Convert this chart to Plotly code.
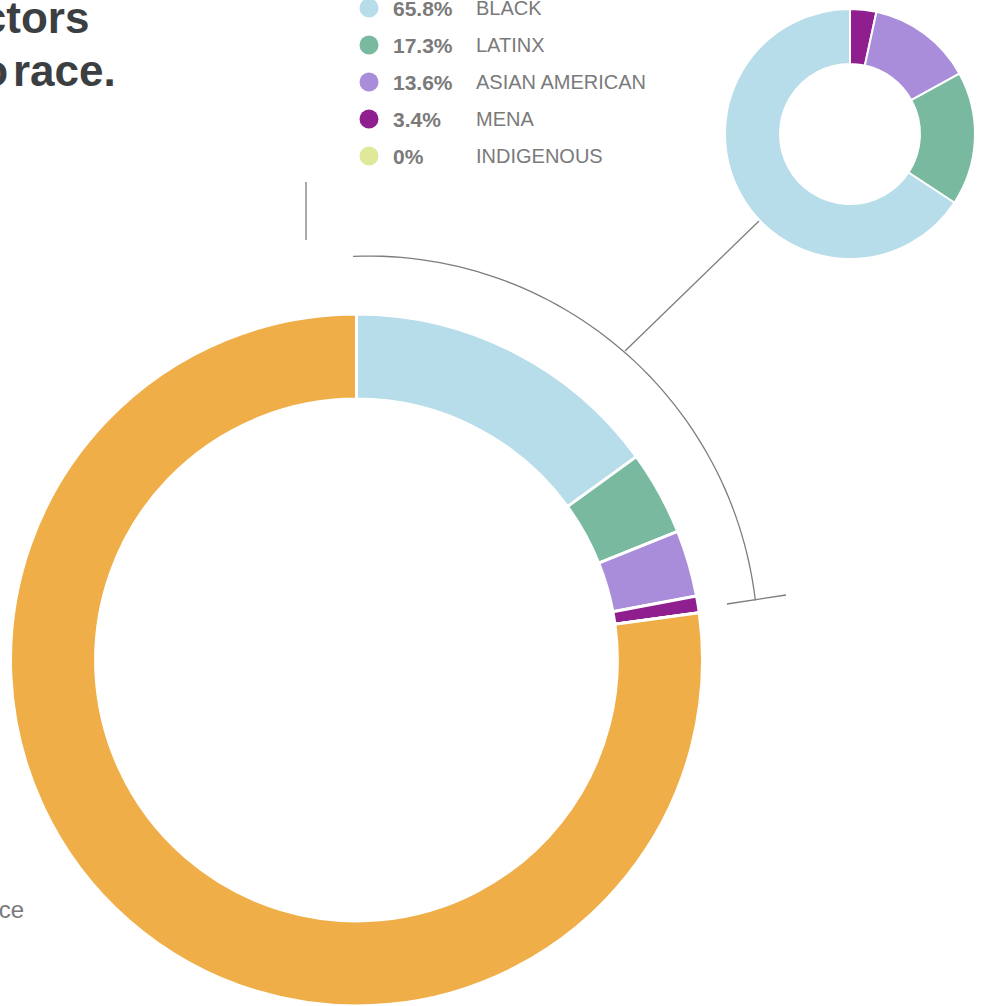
import math
import plotly.graph_objects as go

# ---------------- data ----------------
groups = ["BLACK", "LATINX", "ASIAN AMERICAN", "MENA", "INDIGENOUS"]
group_share = [65.8, 17.3, 13.6, 3.4, 0.0]          # % of people of colour
group_colors = ["#b7dcea", "#78b9a0", "#a98dda", "#8f1e8e", "#e0e89a"]
poc_total = 22.8                                     # % people of colour overall
white_label = "WHITE"
white_share = 77.2
white_color = "#efae48"

title_line1 = "Breakdown of directors"
title_line2_a = "according to"
title_line2_b = "race."
side_note = "Source"

W, H = 981, 1006
FONT = "Liberation Sans, Arial, Helvetica, sans-serif"
GRAY = "#7a7a7a"

big_values = [s * poc_total / 100 for s in group_share] + [white_share]
big_labels = groups + [white_label]
big_colors = group_colors + [white_color]

def dom_x(x0, x1):
    return [max(0, x0 / W), min(1, x1 / W)]

def dom_y(ytop, ybot):
    return [max(0, 1 - ybot / H), min(1, 1 - ytop / H)]

fig = go.Figure()

# big donut
fig.add_trace(go.Pie(
    values=big_values, labels=big_labels, sort=False, direction="clockwise",
    rotation=0, hole=0.754, textinfo="none", hoverinfo="label+value",
    marker=dict(colors=big_colors, line=dict(color="white", width=3)),
    domain=dict(x=dom_x(10.5, 702.5), y=dom_y(314, 1006)), showlegend=False,
))

# small donut (drawn clockwise from 12 o'clock in reverse order)
fig.add_trace(go.Pie(
    values=group_share[::-1], labels=groups[::-1], sort=False, direction="clockwise",
    rotation=0, hole=0.56, textinfo="none", hoverinfo="label+value",
    marker=dict(colors=group_colors[::-1], line=dict(color="white", width=2)),
    domain=dict(x=dom_x(725, 975), y=dom_y(9, 259)), showlegend=False,
))

# legend dots
row_y = [8, 45, 82, 119, 156]
fig.add_trace(go.Scatter(
    x=[369] * len(groups), y=row_y, mode="markers",
    marker=dict(size=19, color=group_colors, line=dict(width=0)),
    hoverinfo="skip", showlegend=False, cliponaxis=False,
))

annotations = []
for g, s, yy in zip(groups, group_share, row_y):
    pct = f"{s:g}%"
    annotations.append(dict(x=391, y=yy, xref="x", yref="y", text=f"<b>{pct}</b>",
                            showarrow=False, xanchor="left", yanchor="middle",
                            font=dict(family=FONT, size=21, color=GRAY)))
    annotations.append(dict(x=474, y=yy, xref="x", yref="y", text=g,
                            showarrow=False, xanchor="left", yanchor="middle",
                            font=dict(family=FONT, size=20, color=GRAY)))

# title (cut off on the left)
TFONT = dict(family=FONT, size=44, color="#3c3f42")
annotations.append(dict(x=91, y=17, xref="x", yref="y", text=f"<b>{title_line1}</b>",
                        showarrow=False, xanchor="right", yanchor="middle", font=TFONT))
annotations.append(dict(x=10, y=70, xref="x", yref="y", text=f"<b>{title_line2_a}</b>",
                        showarrow=False, xanchor="right", yanchor="middle", font=TFONT))
annotations.append(dict(x=11, y=70, xref="x", yref="y", text=f"<b>{title_line2_b}</b>",
                        showarrow=False, xanchor="left", yanchor="middle", font=TFONT))
annotations.append(dict(x=26, y=909, xref="x", yref="y", text=side_note,
                        showarrow=False, xanchor="right", yanchor="middle",
                        font=dict(family=FONT, size=24, color=GRAY)))

# bracket arc around the POC share of the big donut
cx, cy, r = 368, 646, 390
a0, a1 = -2.2, 83.3
pts = []
n = 60
for i in range(n + 1):
    a = math.radians(a0 + (a1 - a0) * i / n)
    pts.append((cx + r * math.sin(a), cy - r * math.cos(a)))
path = "M " + " L ".join(f"{px:.2f},{py:.2f}" for px, py in pts)

line_style = dict(color="#7d7d7d", width=1.3)
shapes = [
    dict(type="path", path=path, xref="x", yref="y", line=line_style, layer="above"),
    dict(type="line", x0=727, y0=604, x1=786, y1=595, xref="x", yref="y", line=line_style),
    dict(type="line", x0=625, y0=351, x1=759, y1=221, xref="x", yref="y", line=line_style),
    dict(type="line", x0=306, y0=182, x1=306, y1=240, xref="x", yref="y", line=line_style),
]

fig.update_layout(
    width=W, height=H, margin=dict(l=0, r=0, t=0, b=0),
    paper_bgcolor="white", plot_bgcolor="rgba(0,0,0,0)",
    xaxis=dict(range=[0, W], visible=False, fixedrange=True),
    yaxis=dict(range=[H, 0], visible=False, fixedrange=True),
    annotations=annotations, shapes=shapes, showlegend=False,
)

fig.write_html("out.html")
